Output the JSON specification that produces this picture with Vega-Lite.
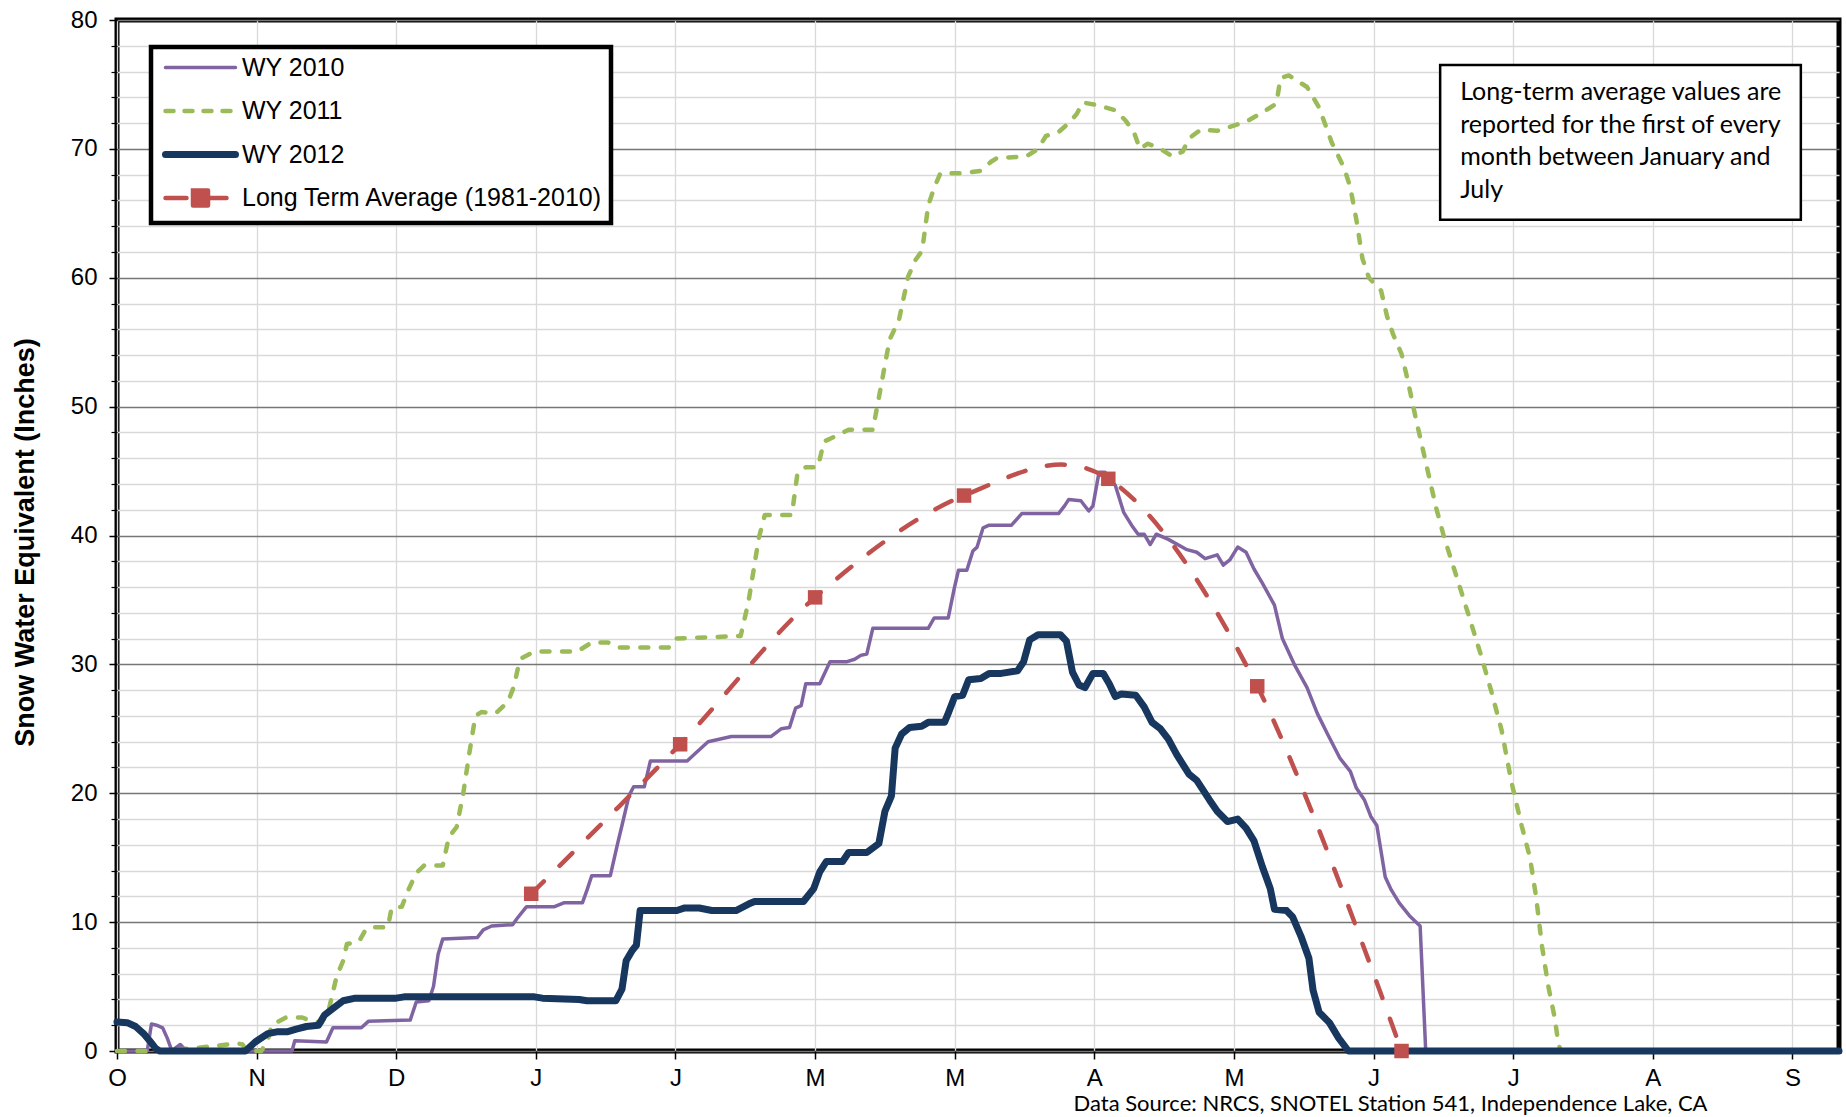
{
  "$schema": "https://vega.github.io/schema/vega-lite/v6.json",
  "width": 1722,
  "height": 1031,
  "autosize": {"type": "none"},
  "padding": {"left": 117, "top": 20, "right": 7, "bottom": 66},
  "background": "white",
  "config": {"view": {"stroke": "black", "strokeWidth": 5}, "font": "Liberation Sans"},
  "datasets": {
    "swe": [
      {"series":"WY 2010","day":0,"swe":0},{"series":"WY 2010","day":6.5,"swe":0},{"series":"WY 2010","day":7.4,"swe":2.1},{"series":"WY 2010","day":8.5,"swe":2.0},{"series":"WY 2010","day":9.8,"swe":1.8},{"series":"WY 2010","day":10.8,"swe":1.0},{"series":"WY 2010","day":11.8,"swe":0},{"series":"WY 2010","day":12.8,"swe":0.3},{"series":"WY 2010","day":13.6,"swe":0.5},{"series":"WY 2010","day":14.9,"swe":0},{"series":"WY 2010","day":37.6,"swe":0},{"series":"WY 2010","day":38.2,"swe":0.8},{"series":"WY 2010","day":45,"swe":0.7},{"series":"WY 2010","day":46.4,"swe":1.8},{"series":"WY 2010","day":52.5,"swe":1.8},{"series":"WY 2010","day":54,"swe":2.3},{"series":"WY 2010","day":63,"swe":2.4},{"series":"WY 2010","day":64.3,"swe":3.8},{"series":"WY 2010","day":67,"swe":3.9},{"series":"WY 2010","day":68,"swe":5},{"series":"WY 2010","day":69,"swe":7.5},{"series":"WY 2010","day":70,"swe":8.7},{"series":"WY 2010","day":77.4,"swe":8.8},{"series":"WY 2010","day":78.7,"swe":9.4},{"series":"WY 2010","day":80.5,"swe":9.7},{"series":"WY 2010","day":85,"swe":9.8},{"series":"WY 2010","day":86,"swe":10.3},{"series":"WY 2010","day":88,"swe":11.2},{"series":"WY 2010","day":94,"swe":11.2},{"series":"WY 2010","day":96,"swe":11.5},{"series":"WY 2010","day":100,"swe":11.5},{"series":"WY 2010","day":101,"swe":12.5},{"series":"WY 2010","day":102,"swe":13.6},{"series":"WY 2010","day":106,"swe":13.6},{"series":"WY 2010","day":107.5,"swe":16},{"series":"WY 2010","day":108.5,"swe":17.5},{"series":"WY 2010","day":110,"swe":19.8},{"series":"WY 2010","day":111,"swe":20.5},{"series":"WY 2010","day":113.3,"swe":20.5},{"series":"WY 2010","day":114.6,"swe":22.5},{"series":"WY 2010","day":122.5,"swe":22.5},{"series":"WY 2010","day":124,"swe":23},{"series":"WY 2010","day":127,"swe":24},{"series":"WY 2010","day":132,"swe":24.4},{"series":"WY 2010","day":140.5,"swe":24.4},{"series":"WY 2010","day":142.7,"swe":25},{"series":"WY 2010","day":144.5,"swe":25.1},{"series":"WY 2010","day":145.8,"swe":26.6},{"series":"WY 2010","day":147,"swe":26.8},{"series":"WY 2010","day":148,"swe":28.5},{"series":"WY 2010","day":151,"swe":28.5},{"series":"WY 2010","day":153.2,"swe":30.2},{"series":"WY 2010","day":156.7,"swe":30.2},{"series":"WY 2010","day":158.5,"swe":30.4},{"series":"WY 2010","day":159.8,"swe":30.7},{"series":"WY 2010","day":161.1,"swe":30.8},{"series":"WY 2010","day":162.4,"swe":32.8},{"series":"WY 2010","day":174.3,"swe":32.8},{"series":"WY 2010","day":175.6,"swe":33.6},{"series":"WY 2010","day":178.6,"swe":33.6},{"series":"WY 2010","day":179.9,"swe":35.9},{"series":"WY 2010","day":180.8,"swe":37.3},{"series":"WY 2010","day":182.6,"swe":37.3},{"series":"WY 2010","day":183.9,"swe":38.8},{"series":"WY 2010","day":184.8,"swe":39.1},{"series":"WY 2010","day":186.1,"swe":40.6},{"series":"WY 2010","day":187.4,"swe":40.8},{"series":"WY 2010","day":192.2,"swe":40.8},{"series":"WY 2010","day":194.4,"swe":41.7},{"series":"WY 2010","day":202.3,"swe":41.7},{"series":"WY 2010","day":203.6,"swe":42.3},{"series":"WY 2010","day":204.5,"swe":42.8},{"series":"WY 2010","day":207.1,"swe":42.7},{"series":"WY 2010","day":208.8,"swe":41.9},{"series":"WY 2010","day":209.7,"swe":42.3},{"series":"WY 2010","day":211,"swe":44.9},{"series":"WY 2010","day":212.3,"swe":44.9},{"series":"WY 2010","day":214.5,"swe":43.9},{"series":"WY 2010","day":216.3,"swe":41.8},{"series":"WY 2010","day":218,"swe":40.8},{"series":"WY 2010","day":219.4,"swe":40.1},{"series":"WY 2010","day":220.7,"swe":40.1},{"series":"WY 2010","day":222,"swe":39.3},{"series":"WY 2010","day":223.3,"swe":40.1},{"series":"WY 2010","day":225.9,"swe":39.7},{"series":"WY 2010","day":229.9,"swe":38.9},{"series":"WY 2010","day":232,"swe":38.7},{"series":"WY 2010","day":233.8,"swe":38.2},{"series":"WY 2010","day":236.4,"swe":38.5},{"series":"WY 2010","day":237.7,"swe":37.7},{"series":"WY 2010","day":239.1,"swe":38.1},{"series":"WY 2010","day":240.8,"swe":39.1},{"series":"WY 2010","day":242.6,"swe":38.7},{"series":"WY 2010","day":244.3,"swe":37.4},{"series":"WY 2010","day":246.1,"swe":36.3},{"series":"WY 2010","day":248.7,"swe":34.6},{"series":"WY 2010","day":250.4,"swe":32},{"series":"WY 2010","day":253.1,"swe":29.9},{"series":"WY 2010","day":255.7,"swe":28.2},{"series":"WY 2010","day":257.9,"swe":26.2},{"series":"WY 2010","day":260.1,"swe":24.6},{"series":"WY 2010","day":262.8,"swe":22.7},{"series":"WY 2010","day":265,"swe":21.7},{"series":"WY 2010","day":266.3,"swe":20.4},{"series":"WY 2010","day":268,"swe":19.5},{"series":"WY 2010","day":269.4,"swe":18.2},{"series":"WY 2010","day":270.7,"swe":17.5},{"series":"WY 2010","day":271.6,"swe":15.5},{"series":"WY 2010","day":272.5,"swe":13.5},{"series":"WY 2010","day":273.8,"swe":12.5},{"series":"WY 2010","day":275.5,"swe":11.5},{"series":"WY 2010","day":277.7,"swe":10.5},{"series":"WY 2010","day":280,"swe":9.7},{"series":"WY 2010","day":281.2,"swe":0},{"series":"WY 2010","day":370,"swe":0},

      {"series":"WY 2011","day":0,"swe":0},{"series":"WY 2011","day":8,"swe":0},{"series":"WY 2011","day":12,"swe":0.1},{"series":"WY 2011","day":16,"swe":0.2},{"series":"WY 2011","day":21.4,"swe":0.4},{"series":"WY 2011","day":25.8,"swe":0.6},{"series":"WY 2011","day":27,"swe":0.5},{"series":"WY 2011","day":27.8,"swe":0},{"series":"WY 2011","day":31,"swe":0},{"series":"WY 2011","day":32.4,"swe":0.8},{"series":"WY 2011","day":33.2,"swe":2.0},{"series":"WY 2011","day":36.3,"swe":2.6},{"series":"WY 2011","day":39.8,"swe":2.6},{"series":"WY 2011","day":42,"swe":2.3},{"series":"WY 2011","day":44,"swe":2.2},{"series":"WY 2011","day":45.5,"swe":3.2},{"series":"WY 2011","day":47.2,"swe":5.8},{"series":"WY 2011","day":48.6,"swe":7.0},{"series":"WY 2011","day":49.4,"swe":8.3},{"series":"WY 2011","day":52,"swe":8.5},{"series":"WY 2011","day":53.4,"swe":9.4},{"series":"WY 2011","day":54.7,"swe":9.6},{"series":"WY 2011","day":58.2,"swe":9.6},{"series":"WY 2011","day":59,"swe":11.1},{"series":"WY 2011","day":61.2,"swe":11.2},{"series":"WY 2011","day":62.6,"swe":12.5},{"series":"WY 2011","day":64.3,"swe":13.8},{"series":"WY 2011","day":66,"swe":14.4},{"series":"WY 2011","day":70,"swe":14.4},{"series":"WY 2011","day":71.3,"swe":16.6},{"series":"WY 2011","day":73,"swe":17.4},{"series":"WY 2011","day":74.4,"swe":20},{"series":"WY 2011","day":75.7,"swe":23.1},{"series":"WY 2011","day":77,"swe":26},{"series":"WY 2011","day":78.3,"swe":26.3},{"series":"WY 2011","day":81.4,"swe":26.2},{"series":"WY 2011","day":84,"swe":27.1},{"series":"WY 2011","day":85.3,"swe":28.3},{"series":"WY 2011","day":86.2,"swe":29.8},{"series":"WY 2011","day":87,"swe":30.5},{"series":"WY 2011","day":89.7,"swe":31},{"series":"WY 2011","day":98.9,"swe":31},{"series":"WY 2011","day":102,"swe":31.7},{"series":"WY 2011","day":105.5,"swe":31.7},{"series":"WY 2011","day":108,"swe":31.3},{"series":"WY 2011","day":118.5,"swe":31.3},{"series":"WY 2011","day":119.9,"swe":32},{"series":"WY 2011","day":134,"swe":32.2},{"series":"WY 2011","day":135.7,"swe":34.9},{"series":"WY 2011","day":137.9,"swe":39.8},{"series":"WY 2011","day":139.2,"swe":41.6},{"series":"WY 2011","day":145,"swe":41.6},{"series":"WY 2011","day":146.2,"swe":44.8},{"series":"WY 2011","day":148,"swe":45.3},{"series":"WY 2011","day":150.6,"swe":45.3},{"series":"WY 2011","day":151.9,"swe":47.3},{"series":"WY 2011","day":153.2,"swe":47.5},{"series":"WY 2011","day":157.2,"swe":48.2},{"series":"WY 2011","day":162.4,"swe":48.2},{"series":"WY 2011","day":163.7,"swe":50.7},{"series":"WY 2011","day":166,"swe":55.2},{"series":"WY 2011","day":168,"swe":56.7},{"series":"WY 2011","day":170,"swe":60.1},{"series":"WY 2011","day":171.6,"swe":61.4},{"series":"WY 2011","day":173,"swe":62.1},{"series":"WY 2011","day":174.3,"swe":65.6},{"series":"WY 2011","day":175.6,"swe":67},{"series":"WY 2011","day":176.9,"swe":68.1},{"series":"WY 2011","day":181.3,"swe":68.1},{"series":"WY 2011","day":185.6,"swe":68.3},{"series":"WY 2011","day":187.8,"swe":69},{"series":"WY 2011","day":189.1,"swe":69.3},{"series":"WY 2011","day":195.3,"swe":69.4},{"series":"WY 2011","day":197.9,"swe":70},{"series":"WY 2011","day":199.6,"swe":71},{"series":"WY 2011","day":202.3,"swe":71.3},{"series":"WY 2011","day":204.5,"swe":72},{"series":"WY 2011","day":206.2,"swe":72.7},{"series":"WY 2011","day":207.5,"swe":73.6},{"series":"WY 2011","day":210.6,"swe":73.4},{"series":"WY 2011","day":214.5,"swe":73},{"series":"WY 2011","day":216.7,"swe":72.2},{"series":"WY 2011","day":218.5,"swe":71.3},{"series":"WY 2011","day":219.8,"swe":70},{"series":"WY 2011","day":221.5,"swe":70.4},{"series":"WY 2011","day":224.2,"swe":70},{"series":"WY 2011","day":226.8,"swe":69.4},{"series":"WY 2011","day":229,"swe":69.8},{"series":"WY 2011","day":230.3,"swe":70.8},{"series":"WY 2011","day":232.9,"swe":71.5},{"series":"WY 2011","day":236.4,"swe":71.4},{"series":"WY 2011","day":239,"swe":71.7},{"series":"WY 2011","day":242.6,"swe":72.1},{"series":"WY 2011","day":246.9,"swe":73},{"series":"WY 2011","day":249.1,"swe":73.5},{"series":"WY 2011","day":250,"swe":75.5},{"series":"WY 2011","day":251.8,"swe":75.7},{"series":"WY 2011","day":255.7,"swe":74.8},{"series":"WY 2011","day":258.3,"swe":73.2},{"series":"WY 2011","day":261,"swe":70.5},{"series":"WY 2011","day":263.7,"swe":68.5},{"series":"WY 2011","day":265,"swe":67},{"series":"WY 2011","day":266.3,"swe":64.5},{"series":"WY 2011","day":267.6,"swe":61.5},{"series":"WY 2011","day":269,"swe":60},{"series":"WY 2011","day":271.6,"swe":59},{"series":"WY 2011","day":272.9,"swe":57},{"series":"WY 2011","day":274.2,"swe":55.6},{"series":"WY 2011","day":276,"swe":54.1},{"series":"WY 2011","day":277.3,"swe":52.1},{"series":"WY 2011","day":279,"swe":49.2},{"series":"WY 2011","day":281.2,"swe":45.7},{"series":"WY 2011","day":283.4,"swe":42.2},{"series":"WY 2011","day":285.2,"swe":39.8},{"series":"WY 2011","day":287.4,"swe":37.3},{"series":"WY 2011","day":290,"swe":34.3},{"series":"WY 2011","day":293,"swe":30.8},{"series":"WY 2011","day":295.3,"swe":27.9},{"series":"WY 2011","day":297.5,"swe":24.9},{"series":"WY 2011","day":299.6,"swe":20.9},{"series":"WY 2011","day":301.8,"swe":17.5},{"series":"WY 2011","day":303.6,"swe":15},{"series":"WY 2011","day":304.9,"swe":12},{"series":"WY 2011","day":306.2,"swe":8.1},{"series":"WY 2011","day":307.5,"swe":5.1},{"series":"WY 2011","day":308.9,"swe":2.6},{"series":"WY 2011","day":309.7,"swe":0.6},{"series":"WY 2011","day":310.2,"swe":0},{"series":"WY 2011","day":370,"swe":0},

      {"series":"WY 2012","day":0,"swe":2.25},{"series":"WY 2012","day":2.2,"swe":2.2},{"series":"WY 2012","day":4,"swe":1.9},{"series":"WY 2012","day":5.7,"swe":1.35},{"series":"WY 2012","day":7,"swe":0.8},{"series":"WY 2012","day":8.3,"swe":0.2},{"series":"WY 2012","day":9.2,"swe":0},{"series":"WY 2012","day":27.6,"swe":0},{"series":"WY 2012","day":29.7,"swe":0.7},{"series":"WY 2012","day":32.4,"swe":1.35},{"series":"WY 2012","day":34.6,"swe":1.5},{"series":"WY 2012","day":36.7,"swe":1.5},{"series":"WY 2012","day":38.5,"swe":1.7},{"series":"WY 2012","day":40.7,"swe":1.9},{"series":"WY 2012","day":43.3,"swe":2.0},{"series":"WY 2012","day":44.6,"swe":2.8},{"series":"WY 2012","day":46.4,"swe":3.3},{"series":"WY 2012","day":48.6,"swe":3.9},{"series":"WY 2012","day":51.2,"swe":4.1},{"series":"WY 2012","day":60,"swe":4.1},{"series":"WY 2012","day":61.7,"swe":4.2},{"series":"WY 2012","day":89.7,"swe":4.2},{"series":"WY 2012","day":91.4,"swe":4.1},{"series":"WY 2012","day":99.3,"swe":4.0},{"series":"WY 2012","day":101,"swe":3.9},{"series":"WY 2012","day":107.2,"swe":3.9},{"series":"WY 2012","day":108.5,"swe":4.8},{"series":"WY 2012","day":109.4,"swe":7},{"series":"WY 2012","day":110.7,"swe":7.8},{"series":"WY 2012","day":111.6,"swe":8.2},{"series":"WY 2012","day":112.4,"swe":10.9},{"series":"WY 2012","day":120.3,"swe":10.9},{"series":"WY 2012","day":122,"swe":11.1},{"series":"WY 2012","day":125.1,"swe":11.1},{"series":"WY 2012","day":127.8,"swe":10.9},{"series":"WY 2012","day":133,"swe":10.9},{"series":"WY 2012","day":135.7,"swe":11.4},{"series":"WY 2012","day":137,"swe":11.6},{"series":"WY 2012","day":147.5,"swe":11.6},{"series":"WY 2012","day":149.7,"swe":12.6},{"series":"WY 2012","day":151,"swe":13.9},{"series":"WY 2012","day":152.4,"swe":14.7},{"series":"WY 2012","day":155.9,"swe":14.7},{"series":"WY 2012","day":157.2,"swe":15.4},{"series":"WY 2012","day":161.1,"swe":15.4},{"series":"WY 2012","day":163.7,"swe":16.1},{"series":"WY 2012","day":165,"swe":18.6},{"series":"WY 2012","day":166.4,"swe":19.8},{"series":"WY 2012","day":167.2,"swe":23.5},{"series":"WY 2012","day":168.6,"swe":24.6},{"series":"WY 2012","day":170.3,"swe":25.1},{"series":"WY 2012","day":172.9,"swe":25.2},{"series":"WY 2012","day":174.3,"swe":25.5},{"series":"WY 2012","day":177.8,"swe":25.5},{"series":"WY 2012","day":178.6,"swe":26.2},{"series":"WY 2012","day":180,"swe":27.5},{"series":"WY 2012","day":181.7,"swe":27.6},{"series":"WY 2012","day":183,"swe":28.8},{"series":"WY 2012","day":185.6,"swe":28.9},{"series":"WY 2012","day":187.4,"swe":29.3},{"series":"WY 2012","day":190,"swe":29.3},{"series":"WY 2012","day":193.5,"swe":29.5},{"series":"WY 2012","day":194.8,"swe":30.2},{"series":"WY 2012","day":196.1,"swe":31.9},{"series":"WY 2012","day":197.9,"swe":32.3},{"series":"WY 2012","day":202.7,"swe":32.3},{"series":"WY 2012","day":204,"swe":31.8},{"series":"WY 2012","day":205.3,"swe":29.4},{"series":"WY 2012","day":206.7,"swe":28.4},{"series":"WY 2012","day":208,"swe":28.2},{"series":"WY 2012","day":209.7,"swe":29.3},{"series":"WY 2012","day":211.9,"swe":29.3},{"series":"WY 2012","day":213.2,"swe":28.5},{"series":"WY 2012","day":214.5,"swe":27.5},{"series":"WY 2012","day":215.8,"swe":27.7},{"series":"WY 2012","day":218.9,"swe":27.6},{"series":"WY 2012","day":220.7,"swe":26.7},{"series":"WY 2012","day":222.4,"swe":25.5},{"series":"WY 2012","day":224.2,"swe":25},{"series":"WY 2012","day":225.9,"swe":24.2},{"series":"WY 2012","day":227.7,"swe":23},{"series":"WY 2012","day":230.3,"swe":21.5},{"series":"WY 2012","day":232,"swe":21},{"series":"WY 2012","day":234.7,"swe":19.5},{"series":"WY 2012","day":236.4,"swe":18.6},{"series":"WY 2012","day":238.6,"swe":17.8},{"series":"WY 2012","day":240.8,"swe":18},{"series":"WY 2012","day":242.6,"swe":17.3},{"series":"WY 2012","day":244.3,"swe":16.3},{"series":"WY 2012","day":246.1,"swe":14.3},{"series":"WY 2012","day":247.8,"swe":12.6},{"series":"WY 2012","day":248.7,"swe":11},{"series":"WY 2012","day":251.3,"swe":10.9},{"series":"WY 2012","day":252.6,"swe":10.4},{"series":"WY 2012","day":254.4,"swe":8.9},{"series":"WY 2012","day":256.1,"swe":7.2},{"series":"WY 2012","day":257,"swe":4.7},{"series":"WY 2012","day":258.3,"swe":3},{"series":"WY 2012","day":260.5,"swe":2.2},{"series":"WY 2012","day":262.5,"swe":1},{"series":"WY 2012","day":264.6,"swe":0},{"series":"WY 2012","day":370,"swe":0}
    ],
    "lta": [
      {"series":"Long Term Average (1981-2010)","day":89,"swe":12.2},
      {"series":"Long Term Average (1981-2010)","day":121,"swe":23.8},
      {"series":"Long Term Average (1981-2010)","day":150,"swe":35.2},
      {"series":"Long Term Average (1981-2010)","day":182,"swe":43.1},
      {"series":"Long Term Average (1981-2010)","day":213,"swe":44.4},
      {"series":"Long Term Average (1981-2010)","day":245,"swe":28.3},
      {"series":"Long Term Average (1981-2010)","day":276,"swe":0}
    ],
    "note": [
      {"line1": "Long-term average values are", "line2": "reported for the first of every", "line3": "month between January and", "line4": "July"}
    ]
  },
  "layer": [
    {
      "data": {"name": "swe"},
      "transform": [{"filter": "datum.series == 'WY 2010'"}],
      "mark": {"type": "line", "strokeWidth": 3.5, "strokeJoin": "round"},
      "encoding": {
        "x": {"field": "day", "type": "quantitative", "scale": {"domain": [0, 370], "nice": false, "zero": false}, "axis": null},
        "y": {"field": "swe", "type": "quantitative", "scale": {"domain": [0, 80], "nice": false},
          "axis": {"orient": "left", "values": [2,4,6,8,12,14,16,18,22,24,26,28,32,34,36,38,42,44,46,48,52,54,56,58,62,64,66,68,72,74,76,78],
            "labels": false, "title": null, "tickSize": 6, "tickColor": "black", "tickWidth": 1.2, "domain": false,
            "grid": true, "gridColor": "#d9d9d9", "gridWidth": 1.5}},
        "color": {"field": "series", "type": "nominal",
          "scale": {"domain": ["WY 2010", "WY 2011", "WY 2012", "Long Term Average (1981-2010)"], "range": ["#8064A2", "#9BBB59", "#17375E", "#C0504D"]},
          "legend": {"orient": "none", "legendX": 34, "legendY": 27, "title": null, "padding": 8,
            "strokeColor": "black", "fillColor": "white", "gridAlign": "all",
            "labelFont": "Liberation Sans", "labelFontSize": 25, "labelColor": "black", "labelLimit": 600,
            "rowPadding": 10.5, "symbolSize": 400, "symbolOffset": 29, "labelOffset": 29, "symbolType": "stroke",
            "encode": {
              "legend": {"update": {"strokeWidth": {"value": 4.5}}},
              "symbols": {"update": {
                "shape": {"signal": "datum.index == 3 ? 'M-3.5,0H-1.4M0.7,0H2.6M-0.75,-0.75H0.75V0.75H-0.75Z' : 'M-3.5,0H3.5'"},
                "strokeWidth": {"signal": "datum.index == 2 ? 7 : (datum.index == 0 ? 3.5 : 4.5)"},
                "strokeDash": {"signal": "datum.index == 1 ? [8, 11] : [1, 0]"},
                "fill": {"signal": "datum.index == 3 ? '#C0504D' : 'transparent'"},
                "strokeCap": {"value": "round"},
                "opacity": {"value": 1}
              }}}}
        }
      }
    },
    {
      "encoding": {
        "x": {"field": "day", "type": "quantitative", "scale": {"domain": [0, 370], "nice": false, "zero": false},
          "axis": {"orient": "bottom", "values": [0,30,60,90,120,150,180,210,240,270,300,330,360],
            "labelExpr": "['O','N','D','J','J','M','M','A','M','J','J','A','S'][round(datum.value/30)]",
            "labelFont": "Liberation Sans", "labelFontSize": 24, "labelColor": "black", "labelPadding": 7,
            "labelFlush": false, "labelOverlap": false,
            "tickSize": 8, "tickColor": "black", "tickWidth": 1.5, "domain": false,
            "grid": true, "gridColor": "#d9d9d9", "gridWidth": 1.3,
            "title": "Data Source:  NRCS, SNOTEL Station 541, Independence Lake, CA",
            "titleFont": "Lato", "titleFontSize": 22, "titleFontWeight": "normal", "titleColor": "black",
            "titleX": 1273, "titleY": 52, "titleAlign": "center", "titleBaseline": "middle", "titleAnchor": null}},
        "y": {"field": "swe", "type": "quantitative", "scale": {"domain": [0, 80], "nice": false},
          "axis": {"orient": "left", "values": [0,10,20,30,40,50,60,70,80],
            "labelFont": "Liberation Sans", "labelFontSize": 24, "labelColor": "black", "labelPadding": 12, "labelFlush": false,
            "tickSize": 8, "tickColor": "black", "tickWidth": 1.5, "domain": false,
            "grid": true, "gridColor": "#767676", "gridWidth": 1.3,
            "title": "Snow Water Equivalent (Inches)", "titleFont": "Liberation Sans", "titleFontSize": 27,
            "titleFontWeight": "bold", "titleColor": "black", "titleX": -92, "titleY": 522,
            "titleAlign": "center", "titleBaseline": "middle", "titleAngle": -90, "titleAnchor": null}}
      },
      "layer": [
        {
          "data": {"name": "swe"},
          "transform": [{"filter": "datum.series == 'WY 2011'"}],
          "mark": {"type": "line", "strokeWidth": 4.5, "strokeDash": [8, 12.5], "strokeCap": "round", "strokeJoin": "round"},
          "encoding": {"color": {"field": "series", "type": "nominal",
            "scale": {"domain": ["WY 2010", "WY 2011", "WY 2012", "Long Term Average (1981-2010)"], "range": ["#8064A2", "#9BBB59", "#17375E", "#C0504D"]}}}
        },
        {
          "data": {"name": "swe"},
          "transform": [{"filter": "datum.series == 'WY 2012'"}],
          "mark": {"type": "line", "strokeWidth": 7, "strokeJoin": "round", "strokeCap": "round"},
          "encoding": {"color": {"field": "series", "type": "nominal",
            "scale": {"domain": ["WY 2010", "WY 2011", "WY 2012", "Long Term Average (1981-2010)"], "range": ["#8064A2", "#9BBB59", "#17375E", "#C0504D"]}}}
        },
        {
          "data": {"name": "lta"},
          "mark": {"type": "line", "interpolate": "cardinal", "strokeWidth": 4.5, "strokeDash": [18, 22], "strokeCap": "round"},
          "encoding": {"color": {"field": "series", "type": "nominal",
            "scale": {"domain": ["WY 2010", "WY 2011", "WY 2012", "Long Term Average (1981-2010)"], "range": ["#8064A2", "#9BBB59", "#17375E", "#C0504D"]}}}
        },
        {
          "data": {"name": "lta"},
          "mark": {"type": "point", "shape": "square", "filled": true, "size": 210, "color": "#C0504D", "opacity": 1}
        }
      ]
    },
    {
      "data": {"name": "note"},
      "mark": {"type": "rect", "fill": "white", "stroke": "black", "strokeWidth": 2.5},
      "encoding": {
        "x": {"datum": 284.3, "type": "quantitative", "axis": null},
        "x2": {"datum": 361.8},
        "y": {"datum": 76.5, "type": "quantitative", "axis": null},
        "y2": {"datum": 64.5}
      }
    },
    {
      "data": {"name": "note"},
      "transform": [{"calculate": "[datum.line1, datum.line2, datum.line3, datum.line4]", "as": "lines"}],
      "mark": {"type": "text", "align": "left", "baseline": "middle", "font": "Lato", "fontSize": 25, "lineHeight": 32.6, "color": "black"},
      "encoding": {
        "x": {"datum": 288.6, "type": "quantitative", "axis": null},
        "y": {"datum": 74.4, "type": "quantitative", "axis": null},
        "text": {"field": "lines"}
      }
    }
  ],
  "resolve": {"axis": {"x": "independent", "y": "independent"}}
}
